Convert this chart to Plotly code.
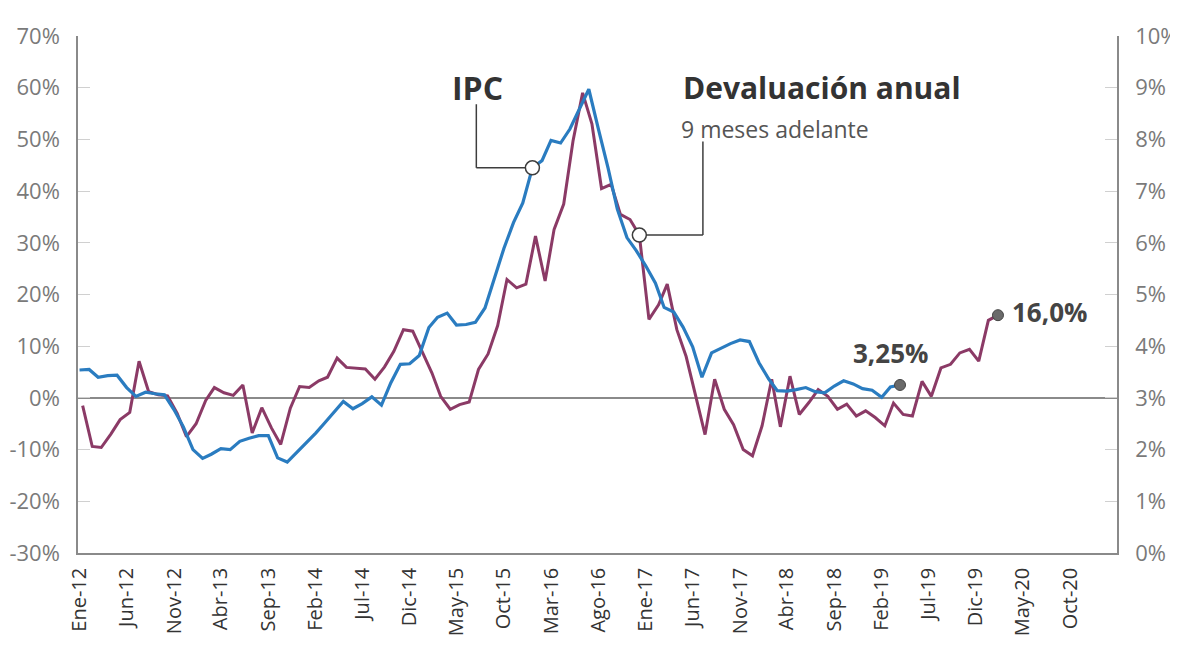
import numpy as np
import pandas as pd
import plotly.graph_objects as go

# ---------------- data ----------------
months = pd.date_range("2012-01-01", periods=98, freq="MS")

# IPC anual (%), right axis, Ene-12 .. Abr-19
ipc = [3.54, 3.55, 3.40, 3.43, 3.44, 3.20, 3.03, 3.11, 3.08, 3.06, 2.77, 2.44,
       2.00, 1.83, 1.91, 2.02, 2.00, 2.16, 2.22, 2.27, 2.27, 1.84, 1.76, 1.94,
       2.13, 2.32, 2.51, 2.72, 2.93, 2.79, 2.89, 3.02, 2.86, 3.29, 3.65, 3.66,
       3.82, 4.36, 4.56, 4.64, 4.41, 4.42, 4.46, 4.74, 5.35, 5.89, 6.39, 6.77,
       7.45, 7.59, 7.98, 7.93, 8.20, 8.60, 8.97, 8.20, 7.45, 6.65, 6.10, 5.85,
       5.55, 5.22, 4.75, 4.66, 4.37, 3.99, 3.40, 3.87, 3.97, 4.05, 4.12, 4.09,
       3.68, 3.37, 3.14, 3.13, 3.16, 3.20, 3.12, 3.10, 3.23, 3.33, 3.27, 3.18,
       3.15, 3.01, 3.21, 3.25]

# Devaluación anual 9 meses adelante (%), left axis, Ene-12 .. Feb-20
devaluacion = [-1.5, -9.4, -9.6, -7.0, -4.2, -2.8, 7.1, 1.2, 0.6, 0.4, -3.0, -7.5,
               -5.0, -0.5, 2.0, 1.0, 0.5, 2.5, -6.8, -1.9, -5.8, -9.0, -2.0, 2.2,
               2.0, 3.3, 4.0, 7.7, 5.9, 5.8, 5.6, 3.6, 6.0, 9.0, 13.2, 12.9,
               8.8, 4.8, 0.3, -2.2, -1.3, -0.8, 5.5, 8.5, 14.0, 22.9, 21.3, 22.0,
               31.3, 22.6, 32.6, 37.5, 49.7, 59.0, 53.0, 40.5, 41.3, 35.5, 34.5, 31.5,
               15.2, 18.0, 22.0, 13.2, 8.0, 0.5, -7.1, 3.6, -2.2, -5.2, -10.0, -11.2,
               -5.4, 3.6, -5.6, 4.2, -3.2, -0.9, 1.6, 0.3, -2.2, -1.2, -3.5, -2.5,
               -3.8, -5.4, -1.0, -3.2, -3.5, 3.2, 0.3, 5.8, 6.5, 8.7, 9.4, 7.1,
               15.0, 16.0]

# the devaluation series is plotted a few days into each month (as in the original)
dev_dates = months + pd.Timedelta(days=10)

tick_dates = pd.date_range("2012-01-01", periods=22, freq="5MS")
tick_text = ["Ene-12", "Jun-12", "Nov-12", "Abr-13", "Sep-13", "Feb-14", "Jul-14",
             "Dic-14", "May-15", "Oct-15", "Mar-16", "Ago-16", "Ene-17", "Jun-17",
             "Nov-17", "Abr-18", "Sep-18", "Feb-19", "Jul-19", "Dic-19", "May-20",
             "Oct-20"]

left_ticks = [-30, -20, -10, 0, 10, 20, 30, 40, 50, 60, 70]
left_text = ["-30%", "-20%", "-10%", "0%", "10%", "20%", "30%", "40%", "50%", "60%", "70%"]
right_ticks = [0, 1, 2, 3, 4, 5, 6, 7, 8, 9, 10]
right_text = ["0%", "1%", "2%", "3%", "4%", "5%", "6%", "7%", "8%", "9%", "10%"]

IPC_CIRCLE = 48      # Ene-16
DEV_CIRCLE = 59      # Dic-16


def mdate(m):
    base = pd.Timestamp("2012-01-01")
    whole = int(np.floor(m))
    frac = m - whole
    start = base + pd.DateOffset(months=whole)
    end = base + pd.DateOffset(months=whole + 1)
    return start + (end - start) * frac


BLUE = "#2a7cc0"
PURPLE = "#8b3a66"
DARK = "#3d3d3d"
FONT = "Open Sans"

fig = go.Figure()

fig.add_trace(go.Scatter(
    x=dev_dates, y=devaluacion, mode="lines", yaxis="y",
    line=dict(color=PURPLE, width=3), showlegend=False, hoverinfo="skip"))

n_ipc = len(ipc)
fig.add_trace(go.Scatter(
    x=months[:n_ipc], y=ipc, mode="lines", yaxis="y2",
    line=dict(color=BLUE, width=3.2), showlegend=False, hoverinfo="skip"))

# end dots
fig.add_trace(go.Scatter(
    x=[months[n_ipc - 1]], y=[ipc[-1]], yaxis="y2", mode="markers",
    marker=dict(size=11, color="#6a6a6a", line=dict(color="#444", width=1)),
    showlegend=False, hoverinfo="skip"))
fig.add_trace(go.Scatter(
    x=[dev_dates[len(devaluacion) - 1]], y=[devaluacion[-1]], yaxis="y", mode="markers",
    marker=dict(size=11, color="#6a6a6a", line=dict(color="#444", width=1)),
    showlegend=False, hoverinfo="skip"))

# annotation circles
fig.add_trace(go.Scatter(
    x=[months[IPC_CIRCLE]], y=[ipc[IPC_CIRCLE]], yaxis="y2", mode="markers",
    marker=dict(size=14, color="white", line=dict(color=DARK, width=1.5)),
    showlegend=False, hoverinfo="skip"))
fig.add_trace(go.Scatter(
    x=[dev_dates[DEV_CIRCLE]], y=[devaluacion[DEV_CIRCLE]], yaxis="y", mode="markers",
    marker=dict(size=14, color="white", line=dict(color=DARK, width=1.5)),
    showlegend=False, hoverinfo="skip"))

# connector lines
ipc_corner_x = mdate(42.1)
fig.add_shape(type="line", xref="x", yref="y2", layer="below",
              x0=ipc_corner_x, x1=ipc_corner_x, y0=8.68, y1=ipc[IPC_CIRCLE],
              line=dict(color=DARK, width=1.5))
fig.add_shape(type="line", xref="x", yref="y2", layer="below",
              x0=ipc_corner_x, x1=months[IPC_CIRCLE], y0=ipc[IPC_CIRCLE], y1=ipc[IPC_CIRCLE],
              line=dict(color=DARK, width=1.5))
dev_corner_x = mdate(66.1)
fig.add_shape(type="line", xref="x", yref="y", layer="below",
              x0=dev_corner_x, x1=dev_corner_x, y0=49.6, y1=devaluacion[DEV_CIRCLE],
              line=dict(color=DARK, width=1.5))
fig.add_shape(type="line", xref="x", yref="y", layer="below",
              x0=dev_corner_x, x1=dev_dates[DEV_CIRCLE], y0=devaluacion[DEV_CIRCLE],
              y1=devaluacion[DEV_CIRCLE], line=dict(color=DARK, width=1.5))

annotations = [
    dict(x=mdate(42.25), y=60.0, xref="x", yref="y", text="<b>IPC</b>",
         showarrow=False, xanchor="center", yanchor="middle",
         font=dict(family=FONT, size=32, color="#333")),
    dict(x=mdate(63.8), y=60.0, xref="x", yref="y", text="<b>Devaluación anual</b>",
         showarrow=False, xanchor="left", yanchor="middle",
         font=dict(family=FONT, size=30, color="#333")),
    dict(x=mdate(63.6), y=52.0, xref="x", yref="y", text="9 meses adelante",
         showarrow=False, xanchor="left", yanchor="middle",
         font=dict(family=FONT, size=23, color="#555")),
    dict(x=months[n_ipc - 1], y=ipc[-1], xref="x", yref="y2", text="<b>3,25%</b>",
         showarrow=False, xanchor="center", yanchor="bottom", xshift=-10, yshift=12,
         font=dict(family=FONT, size=26, color="#444")),
    dict(x=dev_dates[len(devaluacion) - 1], y=devaluacion[-1], xref="x", yref="y",
         text="<b>16,0%</b>", showarrow=False, xanchor="left", yanchor="middle",
         xshift=12, yshift=3, font=dict(family=FONT, size=26, color="#444")),
]

# the page body has an 8px default margin (left/top), so the figure is sized to fill the rest
fig.update_layout(
    width=1170, height=637,
    margin=dict(l=70, r=61, t=28, b=92, autoexpand=False),
    paper_bgcolor="white", plot_bgcolor="white",
    font=dict(family=FONT),
    annotations=annotations,
    xaxis=dict(
        range=[mdate(-0.16), mdate(110.0)],
        tickmode="array", tickvals=tick_dates, ticktext=tick_text,
        tickangle=-90, tickfont=dict(size=20, color="#333", family=FONT),
        showgrid=False, zeroline=False, automargin=False,
        showline=True, linecolor="#8a8a8a", linewidth=1.5,
        ticks="", ticklabelstandoff=5,
    ),
    yaxis=dict(
        range=[-30, 70], tickmode="array", tickvals=left_ticks, ticktext=left_text,
        tickfont=dict(size=22, color="#7a7a7a", family=FONT), automargin=False,
        showgrid=False, zeroline=True, zerolinecolor="#8a8a8a", zerolinewidth=1.5,
        showline=True, linecolor="#8a8a8a", linewidth=1.5,
        ticks="inside", ticklen=12, tickcolor="#d0d0d0", tickwidth=1,
        ticklabelstandoff=12,
    ),
    yaxis2=dict(
        range=[0, 10], overlaying="y", side="right", automargin=False,
        tickmode="array", tickvals=right_ticks, ticktext=right_text,
        tickfont=dict(size=22, color="#7a7a7a", family=FONT),
        showgrid=False, zeroline=False,
        showline=True, linecolor="#8a8a8a", linewidth=1.5,
        ticks="inside", ticklen=12, tickcolor="#d0d0d0", tickwidth=1,
        ticklabelstandoff=12,
    ),
)

fig.write_html("out.html")
